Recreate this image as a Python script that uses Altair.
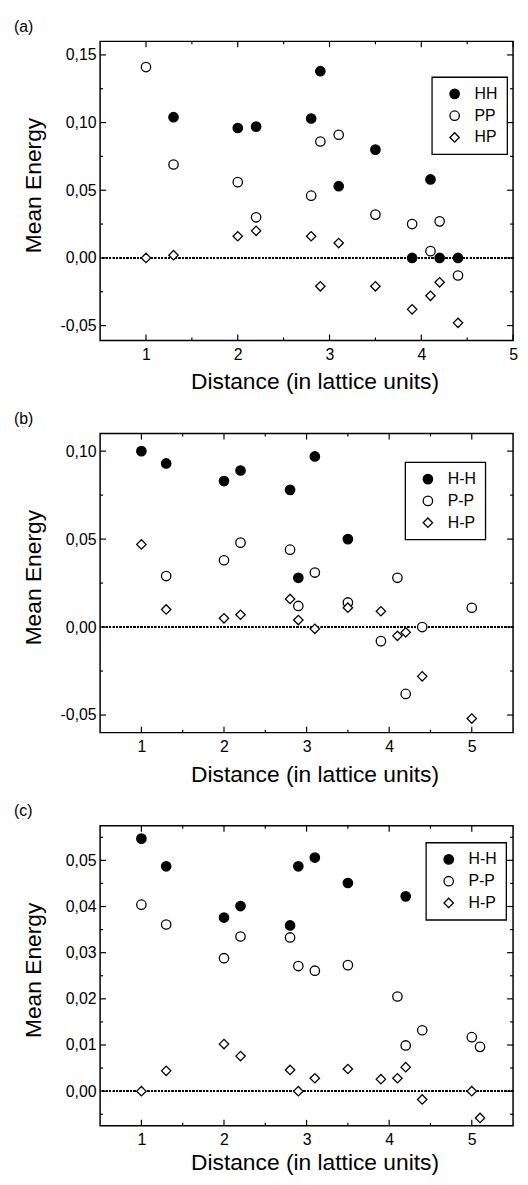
import altair as alt
import pandas as pd

FONT = "Liberation Sans"

# ---------------- data ----------------
# Panel (a)
a_names = ["HH", "PP", "HP"]
a_HH_x = [1.3, 2.0, 2.2, 2.8, 2.9, 3.1, 3.5, 3.9, 4.1, 4.2, 4.4]
a_HH_y = [0.104, 0.096, 0.097, 0.103, 0.138, 0.053, 0.080, 0.000, 0.058, 0.000, 0.000]
a_PP_x = [1.0, 1.3, 2.0, 2.2, 2.8, 2.9, 3.1, 3.5, 3.9, 4.1, 4.2, 4.4]
a_PP_y = [0.141, 0.069, 0.056, 0.030, 0.046, 0.086, 0.091, 0.032, 0.025, 0.005, 0.027, -0.013]
a_HP_x = [1.0, 1.3, 2.0, 2.2, 2.8, 2.9, 3.1, 3.5, 3.9, 4.1, 4.2, 4.4]
a_HP_y = [0.000, 0.002, 0.016, 0.020, 0.016, -0.021, 0.011, -0.021, -0.038, -0.028, -0.018, -0.048]

# Panel (b)
b_names = ["H-H", "P-P", "H-P"]
b_HH_x = [1.0, 1.3, 2.0, 2.2, 2.8, 2.9, 3.1, 3.5]
b_HH_y = [0.100, 0.093, 0.083, 0.089, 0.078, 0.028, 0.097, 0.050]
b_PP_x = [1.3, 2.0, 2.2, 2.8, 2.9, 3.1, 3.5, 3.9, 4.1, 4.2, 4.4, 5.0]
b_PP_y = [0.029, 0.038, 0.048, 0.044, 0.012, 0.031, 0.014, -0.008, 0.028, -0.038, 0.000, 0.011]
b_HP_x = [1.0, 1.3, 2.0, 2.2, 2.8, 2.9, 3.1, 3.5, 3.9, 4.1, 4.2, 4.4, 5.0]
b_HP_y = [0.047, 0.010, 0.005, 0.007, 0.016, 0.004, -0.001, 0.011, 0.009, -0.005, -0.003, -0.028, -0.052]

# Panel (c)
c_names = ["H-H", "P-P", "H-P"]
c_HH_x = [1.0, 1.3, 2.0, 2.2, 2.8, 2.9, 3.1, 3.5, 4.2]
c_HH_y = [0.0547, 0.0487, 0.0376, 0.0401, 0.0359, 0.0487, 0.0506, 0.0451, 0.0422]
c_PP_x = [1.0, 1.3, 2.0, 2.2, 2.8, 2.9, 3.1, 3.5, 4.1, 4.2, 4.4, 5.0, 5.1]
c_PP_y = [0.0404, 0.0361, 0.0288, 0.0335, 0.0333, 0.0271, 0.0261, 0.0273, 0.0205, 0.0099, 0.0132, 0.0117, 0.0096]
c_HP_x = [1.0, 1.3, 2.0, 2.2, 2.8, 2.9, 3.1, 3.5, 3.9, 4.1, 4.2, 4.4, 5.0, 5.1]
c_HP_y = [0.0000, 0.0044, 0.0102, 0.0076, 0.0046, 0.0000, 0.0028, 0.0048, 0.0026, 0.0028, 0.0052, -0.0018, 0.0000, -0.0058]

# axis ticks
a_xdomain = [0.5, 5.0]
a_ydomain = [-0.061, 0.16]
a_xmajor = [1, 2, 3, 4, 5]
a_xminor = [1.5, 2.5, 3.5, 4.5]
a_ymajor = [-0.05, 0.0, 0.05, 0.10, 0.15]
a_yminor = [-0.025, 0.025, 0.075, 0.125]

b_xdomain = [0.5, 5.5]
b_ydomain = [-0.06, 0.11]
b_xmajor = [1, 2, 3, 4, 5]
b_xminor = [1.5, 2.5, 3.5, 4.5]
b_ymajor = [-0.05, 0.0, 0.05, 0.10]
b_yminor = [-0.025, 0.025, 0.075]

c_xdomain = [0.5, 5.5]
c_ydomain = [-0.0075, 0.0575]
c_xmajor = [1, 2, 3, 4, 5]
c_xminor = [1.5, 2.5, 3.5, 4.5]
c_ymajor = [0.0, 0.01, 0.02, 0.03, 0.04, 0.05]
c_yminor = [-0.005, 0.005, 0.015, 0.025, 0.035, 0.045, 0.055]

XTITLE = "Distance (in lattice units)"
YTITLE = "Mean Energy"

YLABEL_EXPR = ("(datum.value < -1e-9 ? '-' : '') + "
               "replace(format(abs(datum.value), '.2f'), '.', ',')")

W = 417
H = 302
MAJ = 6
MIN = 3


def make_df(names, xs, ys):
    rows = []
    for n, xv, yv in zip(names, xs, ys):
        for a, b in zip(xv, yv):
            rows.append({"x": a, "y": b, "series": n})
    return pd.DataFrame(rows)


def tick_rules(vals, scale, side, length, w, h):
    d = alt.Chart(pd.DataFrame({"v": vals})).mark_rule(color="black", strokeWidth=1.2)
    if side in ("bottom", "top"):
        y0, y1 = (h, h - length) if side == "bottom" else (0, length)
        return d.encode(x=alt.X("v:Q", scale=scale, axis=None),
                        y=alt.value(y0), y2=alt.value(y1))
    x0, x1 = (0, length) if side == "left" else (w, w - length)
    return d.encode(y=alt.Y("v:Q", scale=scale, axis=None),
                    x=alt.value(x0), x2=alt.value(x1))


def panel(letter, names, xs, ys, xdom, ydom, xmaj, xmin, ymaj, ymin, lx, ly, h=H, tpad=9):
    df = make_df(names, xs, ys)
    xs_ = alt.Scale(domain=xdom, nice=False, zero=False)
    ys_ = alt.Scale(domain=ydom, nice=False, zero=False)

    zero = alt.Chart(df).mark_rule(color="black", strokeDash=[1.5, 2], strokeWidth=1).encode(
        y=alt.YDatum(0, axis=None, scale=ys_)
    )

    legend = alt.Legend(
        title=None, orient="none", legendX=lx, legendY=ly,
        strokeColor="black", padding=9,
        fillColor="white",
        labelFont=FONT, labelFontSize=16, labelColor="black",
        symbolSize=90, symbolStrokeWidth=1.3,
        symbolOffset=6, labelOffset=12, rowPadding=6,
    )

    pts = alt.Chart(df).mark_point(filled=True, strokeWidth=1.3, size=90, opacity=1).encode(
        x=alt.X("x:Q", scale=xs_, axis=alt.Axis(
            orient="bottom", values=xmaj, ticks=False, tickSize=0, domain=False, grid=False,
            labelFlush=False, labelPadding=6, format="d", title=XTITLE,
            titlePadding=tpad, titleX=W / 2 + 8)),
        y=alt.Y("y:Q", scale=ys_, axis=alt.Axis(
            orient="left", values=ymaj, ticks=False, tickSize=0, domain=False, grid=False,
            labelExpr=YLABEL_EXPR, labelPadding=4, title=YTITLE,
            titleX=-55, titleY=h / 2 - 6)),
        fill=alt.Fill("series:N", scale=alt.Scale(domain=names, range=["black", "white", "white"]),
                      legend=legend),
        shape=alt.Shape("series:N", scale=alt.Scale(domain=names, range=["circle", "circle", "diamond"]),
                        legend=legend),
        stroke=alt.Stroke("series:N", scale=alt.Scale(domain=names, range=["black", "black", "black"]),
                          legend=legend),
    )

    layers = [zero]
    for side in ("bottom", "top"):
        layers.append(tick_rules(xmaj, xs_, side, MAJ, W, h))
        layers.append(tick_rules(xmin, xs_, side, MIN, W, h))
    for side in ("left", "right"):
        layers.append(tick_rules(ymaj, ys_, side, MAJ, W, h))
        layers.append(tick_rules(ymin, ys_, side, MIN, W, h))
    layers.append(pts)

    ch = alt.layer(*layers).resolve_axis(x="independent", y="independent").properties(
        width=W, height=h,
        title=alt.TitleParams(letter, anchor="start", frame="group", dx=-87, offset=6,
                              fontSize=16, font=FONT, fontWeight="normal", color="black"),
    )
    return ch


pa = panel("(a)", a_names, [a_HH_x, a_PP_x, a_HP_x], [a_HH_y, a_PP_y, a_HP_y],
           a_xdomain, a_ydomain, a_xmajor, a_xminor, a_ymajor, a_yminor, 335, 36)
pb = panel("(b)", b_names, [b_HH_x, b_PP_x, b_HP_x], [b_HH_y, b_PP_y, b_HP_y],
           b_xdomain, b_ydomain, b_xmajor, b_xminor, b_ymajor, b_yminor, 308, 29)
pc = panel("(c)", c_names, [c_HH_x, c_PP_x, c_HP_x], [c_HH_y, c_PP_y, c_HP_y],
           c_xdomain, c_ydomain, c_xmajor, c_xminor, c_ymajor, c_yminor, 329, 17, h=303, tpad=4)

chart = alt.vconcat(pa, pb, pc, spacing=15).resolve_scale(
    x="independent", y="independent", fill="independent", shape="independent",
    stroke="independent"
).resolve_legend(fill="independent", shape="independent", stroke="independent").properties(
    padding={"left": 5, "top": 4, "right": 1, "bottom": -4}
).configure_view(
    stroke="black", strokeWidth=1.5
).configure_axis(
    labelFont=FONT, titleFont=FONT, labelFontSize=16, titleFontSize=23,
    labelColor="black", titleColor="black", titleFontWeight="normal",
).configure_legend(
    strokeWidth=1.3, cornerRadius=0
)

chart.save("out.html", embed_options={"renderer": "svg", "actions": False})
